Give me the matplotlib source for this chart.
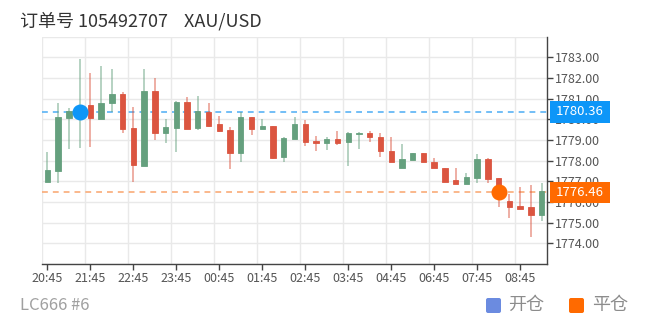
import matplotlib
matplotlib.use('Agg')
import matplotlib.pyplot as plt
from matplotlib.transforms import blended_transform_factory
from matplotlib.patches import Rectangle, FancyBboxPatch

plt.rcParams['font.family'] = ['Noto Sans CJK SC', 'DejaVu Sans']

# ---- data (15-minute candles) ----
opens = [1776.95, 1777.52, 1780.08, 1780.30, 1780.69, 1780.03, 1780.77, 1781.22, 1779.60, 1777.74,
         1781.37, 1779.32, 1779.58, 1780.84, 1779.58, 1780.35, 1779.77, 1779.48, 1778.35, 1780.13,
         1779.55, 1779.68, 1778.19, 1779.03, 1779.77, 1778.93, 1778.87, 1779.03, 1778.89, 1779.27,
         1779.32, 1779.16, 1778.48, 1777.66, 1778.03, 1778.39, 1777.93, 1777.66, 1777.06, 1776.87,
         1777.18, 1778.06, 1777.14, 1776.05, 1775.80, 1775.74, 1775.37]
closes = [1777.55, 1780.10, 1780.38, 1780.45, 1780.06, 1780.77, 1781.22, 1779.53, 1777.77, 1781.39,
          1779.35, 1779.61, 1780.84, 1779.53, 1780.42, 1779.69, 1779.43, 1778.35, 1780.13, 1779.53,
          1779.69, 1778.13, 1779.08, 1779.77, 1778.92, 1778.87, 1779.05, 1778.87, 1779.32, 1779.35,
          1779.13, 1778.47, 1777.93, 1778.08, 1778.35, 1777.95, 1777.66, 1776.98, 1776.87, 1777.22,
          1778.08, 1777.13, 1776.50, 1775.74, 1775.68, 1775.38, 1776.53]
highs = [1778.43, 1780.77, 1780.53, 1782.90, 1782.26, 1782.60, 1782.43, 1781.30, 1780.58, 1782.42,
         1781.98, 1780.03, 1780.90, 1781.10, 1781.13, 1780.80, 1780.16, 1779.61, 1780.37, 1780.13,
         1780.00, 1779.68, 1779.13, 1780.10, 1779.97, 1779.19, 1779.13, 1779.45, 1779.40, 1779.38,
         1779.45, 1779.35, 1779.13, 1778.80, 1778.35, 1778.39, 1778.11, 1777.66, 1777.66, 1777.38,
         1778.30, 1778.11, 1777.14, 1776.39, 1776.74, 1776.80, 1776.90]
lows = [1776.95, 1776.93, 1778.56, 1778.60, 1778.68, 1780.03, 1780.34, 1779.35, 1776.95, 1777.74,
        1779.00, 1778.87, 1778.43, 1779.53, 1779.48, 1779.64, 1779.40, 1777.60, 1777.92, 1779.22,
        1779.55, 1778.08, 1777.95, 1779.03, 1778.72, 1778.48, 1778.52, 1778.76, 1777.76, 1778.56,
        1778.92, 1778.16, 1777.93, 1777.66, 1778.03, 1777.95, 1777.66, 1776.98, 1776.87, 1776.87,
        1776.90, 1776.93, 1775.74, 1775.21, 1775.68, 1774.29, 1775.10]
tick_labels = ["20:45", "21:45", "22:45", "23:45", "00:45", "01:45",
               "02:45", "03:45", "04:45", "06:45", "07:45", "08:45"]
label_step = 4
y_ticks = [1774, 1775, 1776, 1777, 1778, 1779, 1780, 1781, 1782, 1783]
open_idx, open_price = 3, 1780.36
close_idx, close_price = 42, 1776.46
title_text = "订单号 105492707    XAU/USD"
footer_text = "LC666 #6"
legend_labels = ["开仓", "平仓"]

# ---- styles ----
UP = '#65a07e'
DOWN = '#db5540'
BLUE = '#0d96f8'
ORANGE = '#ff6a00'

W, H = 652, 325
fig = plt.figure(figsize=(W / 100, H / 100), dpi=100)
ax = fig.add_axes([42 / W, 1 - 264 / H, (547 - 42) / W, (264 - 36.6) / H])

n = len(opens)
xs = list(range(n))
ax.set_xlim(-0.5, n - 0.5)
ax.set_ylim(1773, 1784)

for i in xs:
    o, c, h, l = opens[i], closes[i], highs[i], lows[i]
    col = UP if c >= o else DOWN
    ax.vlines(i, l, h, colors=col, lw=1.1, alpha=0.6, zorder=3)
    ax.bar(i, c - o, bottom=o, width=0.5, color=col, edgecolor=col, lw=0.6, zorder=4)

# order lines + markers
ax.axhline(open_price, color='#5ab3f5', lw=1.2, ls=(0, (3.5, 3)), zorder=2.8)
ax.axhline(close_price, color='#f9ab78', lw=1.2, ls=(0, (3.5, 3)), zorder=2.8)
ax.plot([open_idx], [open_price], 'o', color=BLUE, ms=10.5, zorder=6)
ax.plot([close_idx], [close_price], 'o', color=ORANGE, ms=10.5, zorder=6)

# grid
for g in [1773, 1784] + y_ticks:
    ax.axhline(g, color='#e9e9e9', lw=1, zorder=0)
major = [k * label_step for k in range(len(tick_labels))]
for m in major:
    ax.axvline(m - 0.5, color='#e9e9e9', lw=1, zorder=0)

ax.set_xticks(major)
ax.set_xticklabels(tick_labels)
ax.yaxis.tick_right()
ax.set_yticks(y_ticks)
ax.set_yticklabels([f"{v:.2f}" for v in y_ticks])
ax.tick_params(axis='both', length=4, width=1, color='#444', labelcolor='#555', labelsize=9, pad=2)

for s in ['top', 'left']:
    ax.spines[s].set_visible(False)
for s in ['right', 'bottom']:
    ax.spines[s].set_color('#444')
    ax.spines[s].set_linewidth(1)

# price boxes on right axis
tr = blended_transform_factory(ax.transAxes, ax.transData)
axw = 547 - 42
for price, col in [(open_price, BLUE), (close_price, ORANGE)]:
    ax.add_patch(Rectangle((1 + 3 / axw, price - 0.53), 60 / axw, 1.06, transform=tr,
                           facecolor=col, edgecolor='none', clip_on=False, zorder=7))
    ax.text(1 + 33 / axw, price, f"{price:.2f}", transform=tr, ha='center', va='center',
            color='white', fontsize=9.5, clip_on=False, zorder=8)

# title & footer
fig.text(20 / W, 1 - 21 / H, title_text, ha='left', va='center', fontsize=13, color='#333')
fig.text(20 / W, 1 - 306 / H, footer_text, ha='left', va='center', fontsize=12, color='#a0a0a0')

# legend
for (sx, tx), lab, col in zip([(486, 508), (569, 592)], legend_labels, ['#6b8be0', ORANGE]):
    fig.add_artist(FancyBboxPatch((sx / 100, (H - 313) / 100), 0.15, 0.15,
                                  boxstyle='round,pad=0,rounding_size=0.02',
                                  transform=fig.dpi_scale_trans, facecolor=col, edgecolor='none'))
    fig.text(tx / W, 1 - 305 / H, lab, ha='left', va='center', fontsize=13, color='#8c8c8c')

fig.savefig('out.png', dpi=100)
